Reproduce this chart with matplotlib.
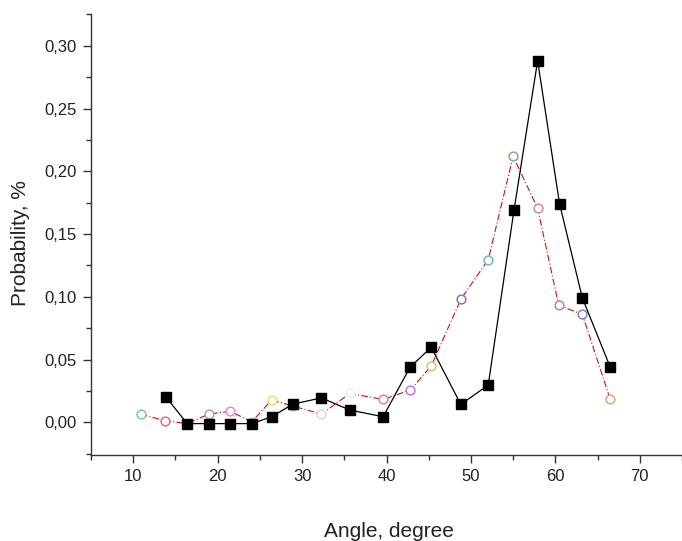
import matplotlib
matplotlib.use('Agg')
import matplotlib.pyplot as plt
from matplotlib.ticker import MultipleLocator, FuncFormatter

# black series (filled squares)
angle_black = [13.9, 16.4, 18.95, 21.45, 24.05, 26.4, 28.9, 32.3, 35.65, 39.6,
               42.8, 45.3, 48.8, 52.05, 55.1, 57.9, 60.5, 63.2, 66.5]
prob_black = [0.020, -0.001, -0.001, -0.001, -0.001, 0.0045, 0.0145, 0.0195,
              0.0098, 0.0045, 0.044, 0.0598, 0.0143, 0.0297, 0.169, 0.288,
              0.174, 0.099, 0.044]

# red dash-dot series (open circles, each point its own colour)
angle_red = [10.9, 13.8, 16.4, 18.95, 21.45, 24.05, 26.4, 28.9, 32.3, 35.65,
             39.6, 42.8, 45.3, 48.8, 52.05, 55.0, 57.9, 60.4, 63.2, 66.5]
prob_red = [0.0064, 0.0013, -0.001, 0.0066, 0.0088, 0.0005, 0.0178, 0.013,
            0.0066, 0.023, 0.0183, 0.0257, 0.0449, 0.098, 0.1296, 0.212,
            0.1705, 0.0932, 0.086, 0.0183]
circle_colors = ['#80d080', '#e07070', '#d0a0a0', '#a8a8a8', '#e090e0',
                 '#c0c0e0', '#f0e060', '#a0c0a0', '#d8d8d8', '#f4eeee',
                 '#e080b0', '#b080e0', '#e8b878', '#7878d8', '#70b8c8',
                 '#80b080', '#c89090', '#c878c8', '#8080c8', '#b8b878']

plt.rcParams['font.family'] = ['Liberation Sans', 'DejaVu Sans']

fig = plt.figure(figsize=(6.82, 5.41), dpi=100)
ax = fig.add_axes([91 / 682, 86 / 541, 591 / 682, 441 / 541])

ax.plot(angle_red, prob_red, color='#d01010', lw=0.8,
        linestyle=(0, (6, 2, 1, 2)), zorder=2)
for x, y, c in zip(angle_red, prob_red, circle_colors):
    ax.plot(x, y, 'o', ms=6.3, mfc='white', mec=c, mew=1.1, zorder=3)
ax.plot(angle_black, prob_black, color='black', lw=0.9, marker='s', ms=7.2,
        mfc='black', mec='black', zorder=4)

ax.set_xlim(5, 75)
ax.set_ylim(-0.026, 0.3253)
ax.xaxis.set_major_locator(MultipleLocator(10))
ax.xaxis.set_minor_locator(MultipleLocator(5))
ax.yaxis.set_major_locator(MultipleLocator(0.05))
ax.yaxis.set_minor_locator(MultipleLocator(0.025))
ax.yaxis.set_major_formatter(FuncFormatter(lambda v, p: f'{v:.2f}'.replace('.', ',')))

for side in ['top', 'right']:
    ax.spines[side].set_visible(False)
for side in ['left', 'bottom']:
    ax.spines[side].set_color('#333333')
    ax.spines[side].set_linewidth(1.0)

ax.tick_params(which='major', direction='out', length=6, width=1.0,
               color='#333333', labelsize=12, labelcolor='#222222', pad=4)
ax.tick_params(which='minor', direction='out', length=3.5, width=1.0,
               color='#333333')

ax.set_xlabel('Angle, degree', fontsize=15, color='#222222')
ax.set_ylabel('Probability, %', fontsize=15, color='#222222')
ax.xaxis.label.set_va('center')
ax.yaxis.label.set_va('center')
ax.xaxis.set_label_coords(0.504, -0.174)
ax.yaxis.set_label_coords(-0.120, 0.481)

fig.savefig('out.png', dpi=100)
